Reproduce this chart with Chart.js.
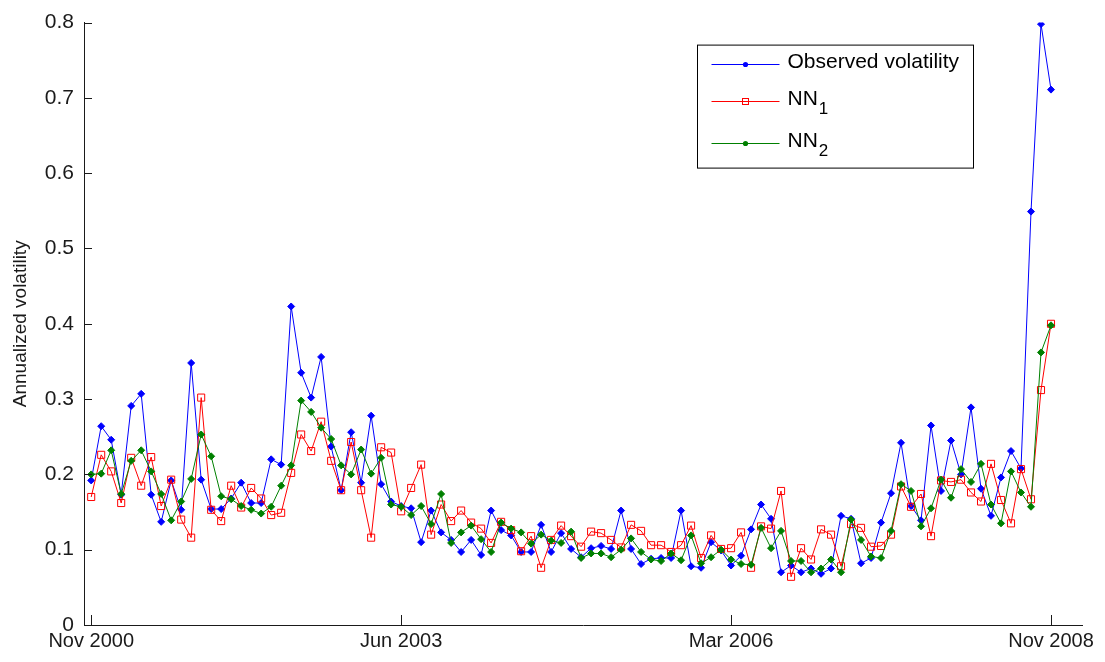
<!DOCTYPE html>
<html><head><meta charset="utf-8">
<script src="https://cdn.jsdelivr.net/npm/chart.js@4.4.1/dist/chart.umd.min.js"></script>
<style>html,body{margin:0;padding:0;background:#fff;}#wrap{width:1105px;height:662px;position:relative;}</style>
</head><body><div id="wrap"><canvas id="c" width="1105" height="662"></canvas></div>
<script>
// Monthly observations, Nov 2000 (index 0) .. Nov 2008 (index 96)
const monthIndex = [
  0,1,2,3,4,5,6,7,8,9,10,11,12,13,14,15,16,17,18,19,20,21,22,23,24,25,26,27,28,29,30,31,32,
  33,34,35,36,37,38,39,40,41,42,43,44,45,46,47,48,49,50,51,52,53,54,55,56,57,58,59,60,61,62,63,64,
  65,66,67,68,69,70,71,72,73,74,75,76,77,78,79,80,81,82,83,84,85,86,87,88,89,90,91,92,93,94,95,96
];
const observed = [
  0.192,0.264,0.246,0.173,0.291,0.307,0.173,0.137,0.192,0.153,0.348,0.193,0.154,0.154,0.168,0.189,0.162,
  0.162,0.220,0.213,0.423,0.335,0.302,0.356,0.237,0.179,0.256,0.189,0.278,0.187,0.164,0.158,0.155,
  0.110,0.152,0.123,0.113,0.097,0.113,0.093,0.152,0.126,0.119,0.097,0.097,0.133,0.097,0.122,0.101,
  0.090,0.102,0.105,0.101,0.152,0.101,0.081,0.088,0.089,0.089,0.152,0.078,0.076,0.110,0.099,0.079,
  0.092,0.127,0.160,0.141,0.070,0.079,0.070,0.075,0.068,0.075,0.145,0.141,0.082,0.089,0.136,0.175,
  0.242,0.158,0.139,0.265,0.178,0.245,0.200,0.289,0.181,0.145,0.196,0.231,0.208,0.549,0.798,0.711
];
const nn1 = [
  0.170,0.226,0.204,0.162,0.222,0.185,0.223,0.158,0.193,0.140,0.116,0.302,0.153,0.138,0.185,0.156,0.182,
  0.168,0.146,0.149,0.202,0.253,0.231,0.270,0.218,0.179,0.243,0.179,0.116,0.236,0.229,0.151,0.182,
  0.213,0.120,0.160,0.138,0.152,0.136,0.128,0.109,0.137,0.126,0.098,0.118,0.076,0.113,0.132,0.118,
  0.104,0.124,0.122,0.113,0.103,0.133,0.125,0.106,0.106,0.097,0.106,0.132,0.089,0.119,0.101,0.102,
  0.123,0.076,0.131,0.128,0.178,0.064,0.102,0.087,0.127,0.120,0.078,0.134,0.129,0.104,0.105,0.120,
  0.184,0.157,0.174,0.118,0.192,0.190,0.193,0.176,0.164,0.214,0.166,0.135,0.207,0.167,0.312,0.400
];
const nn2 = [
  0.200,0.201,0.232,0.174,0.218,0.232,0.204,0.174,0.139,0.164,0.194,0.253,0.224,0.171,0.167,0.158,0.153,
  0.148,0.157,0.185,0.212,0.298,0.283,0.262,0.247,0.212,0.200,0.233,0.201,0.222,0.160,0.157,0.146,
  0.158,0.134,0.174,0.109,0.123,0.132,0.114,0.097,0.136,0.128,0.123,0.108,0.120,0.112,0.109,0.124,
  0.089,0.095,0.095,0.090,0.100,0.115,0.097,0.087,0.085,0.095,0.086,0.119,0.082,0.090,0.100,0.087,
  0.081,0.080,0.129,0.102,0.125,0.085,0.085,0.070,0.075,0.087,0.070,0.140,0.113,0.091,0.089,0.125,
  0.187,0.178,0.131,0.155,0.193,0.169,0.207,0.190,0.214,0.160,0.135,0.204,0.176,0.157,0.362,0.398
];
const xTickMonths = [0, 31, 64, 96];
const xTickLabels = ['Nov 2000', 'Jun 2003', 'Mar 2006', 'Nov 2008'];
const yTickValues = [0, 0.1, 0.2, 0.3, 0.4, 0.5, 0.6, 0.7, 0.8];
const seriesNames = ['Observed volatility', 'NN', 'NN'];
const seriesSubs = ['', '1', '2'];
const yTitle = 'Annualized volatility';

const FONT = '"Liberation Sans", Arial, sans-serif';
const AXIS = '#1a1a1a';
const colors = ['#0000ff', '#ff0000', '#008000'];

function pts(arr) { return monthIndex.map((m, i) => ({x: m, y: arr[i]})); }

const inwardTicks = {
  id: 'inwardTicks',
  afterDraw(chart) {
    const ctx = chart.ctx, a = chart.chartArea;
    const xs = chart.scales.x, ys = chart.scales.y;
    ctx.save();
    ctx.strokeStyle = AXIS; ctx.lineWidth = 1;
    ctx.beginPath();
    xTickMonths.forEach(v => {
      const px = Math.round(xs.getPixelForValue(v)) + 0.5;
      ctx.moveTo(px, a.bottom); ctx.lineTo(px, a.bottom - 10);
    });
    yTickValues.forEach(v => {
      const py = Math.round(ys.getPixelForValue(v)) + 0.5;
      ctx.moveTo(a.left, py); ctx.lineTo(a.left + 8, py);
    });
    ctx.stroke();
    ctx.restore();
  }
};

const boxLegend = {
  id: 'boxLegend',
  afterDraw(chart) {
    const ctx = chart.ctx, a = chart.chartArea;
    const bx = a.right - 384.5, by = a.top + 22.5, bw = 276, bh = 123;
    ctx.save();
    ctx.fillStyle = '#fff';
    ctx.fillRect(bx, by, bw, bh);
    ctx.strokeStyle = '#000'; ctx.lineWidth = 1;
    ctx.strokeRect(bx, by, bw, bh);
    const rows = [19, 56, 98];
    rows.forEach((ry, i) => {
      const y = Math.round(by + ry) + 0.5;
      const x0 = bx + 14, x1 = bx + 82, xm = bx + 48;
      ctx.strokeStyle = colors[i]; ctx.lineWidth = 1;
      ctx.beginPath(); ctx.moveTo(x0, y); ctx.lineTo(x1, y); ctx.stroke();
      if (i === 1) {
        ctx.strokeStyle = colors[i];
        ctx.strokeRect(xm - 3, y - 3, 6, 6);
      } else {
        ctx.fillStyle = colors[i];
        ctx.beginPath(); ctx.arc(xm, y, 2.6, 0, Math.PI * 2); ctx.fill();
      }
      ctx.fillStyle = '#000';
      ctx.textBaseline = 'middle';
      ctx.textAlign = 'left';
      ctx.font = '21px ' + FONT;
      const tx = bx + 90;
      ctx.fillText(seriesNames[i], tx, y - 2);
      if (seriesSubs[i]) {
        const w = ctx.measureText(seriesNames[i]).width;
        ctx.font = '17px ' + FONT;
        ctx.fillText(seriesSubs[i], tx + w + 1, y + 8);
      }
    });
    ctx.restore();
  }
};

new Chart(document.getElementById('c'), {
  type: 'line',
  data: {
    datasets: [
      {label: seriesNames[0], data: pts(observed), borderColor: colors[0], backgroundColor: colors[0],
       borderWidth: 1, pointStyle: 'rectRot', pointRadius: 3.5, pointBorderWidth: 1, tension: 0, order: 2},
      {label: seriesNames[1] + seriesSubs[1], data: pts(nn1), borderColor: colors[1], backgroundColor: 'rgba(0,0,0,0)',
       borderWidth: 1, pointStyle: 'rect', pointRadius: 5, pointBorderWidth: 1, tension: 0, order: 1},
      {label: seriesNames[2] + seriesSubs[2], data: pts(nn2), borderColor: colors[2], backgroundColor: colors[2],
       borderWidth: 1, pointStyle: 'rectRot', pointRadius: 3.5, pointBorderWidth: 1, tension: 0, order: 0}
    ]
  },
  options: {
    responsive: false,
    animation: false,
    devicePixelRatio: 1,
    layout: {padding: {top: 19, right: 23, left: 0, bottom: 0}},
    plugins: {legend: {display: false}, tooltip: {enabled: false}},
    scales: {
      x: {
        type: 'linear', min: -0.72, max: 99.1,
        afterBuildTicks: s => { s.ticks = xTickMonths.map(v => ({value: v})); },
        afterFit: s => { s.height = 37; },
        ticks: {
          callback: v => xTickLabels[xTickMonths.indexOf(v)],
          autoSkip: false, maxRotation: 0, minRotation: 0,
          font: {family: FONT, size: 20}, color: AXIS, padding: 4
        },
        grid: {display: false, drawTicks: false},
        border: {display: true, color: AXIS, width: 1}
      },
      y: {
        min: 0, max: 0.8,
        afterBuildTicks: s => { s.ticks = yTickValues.map(v => ({value: v})); },
        afterFit: s => { s.width = 84; },
        ticks: {
          callback: v => v === 0 ? '0' : v.toFixed(1),
          font: {family: FONT, size: 21}, color: AXIS, padding: 10
        },
        grid: {display: false, drawTicks: false},
        border: {display: true, color: AXIS, width: 1},
        title: {display: true, text: yTitle, font: {family: FONT, size: 19}, color: AXIS, padding: {top: 9, bottom: 0}}
      }
    }
  },
  plugins: [inwardTicks, boxLegend]
});
</script></body></html>
